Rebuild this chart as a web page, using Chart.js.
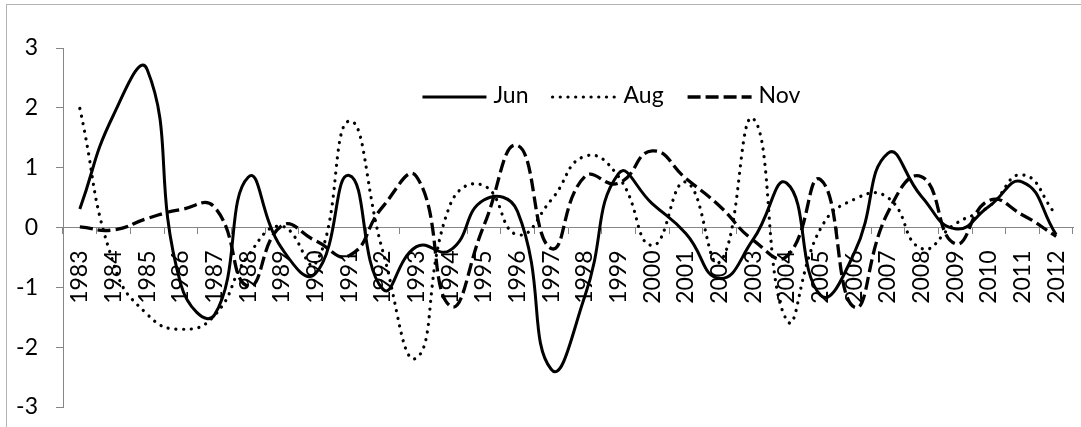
<!DOCTYPE html>
<html>
<head>
<meta charset="utf-8">
<script src="https://cdn.jsdelivr.net/npm/chart.js@4/dist/chart.umd.min.js"></script>
<style>
  html, body { margin: 0; padding: 0; background: #ffffff; }
  #wrap { position: relative; width: 1081px; height: 427px; overflow: hidden; }
  #frame { position: absolute; left: 6px; top: 4px; right: -5px; bottom: -5px; border: 1px solid #b3b3b3; pointer-events: none; }
  canvas { position: absolute; left: 0; top: 0; }
</style>
</head>
<body>
<div id="wrap">
  <canvas id="c" width="1081" height="427"></canvas>
  <div id="frame"></div>
</div>
<script>
const years = ["1983","1984","1985","1986","1987","1988","1989","1990","1991","1992","1993","1994","1995","1996","1997","1998","1999","2000","2001","2002","2003","2004","2005","2006","2007","2008","2009","2010","2011","2012"];
const jun = [0.31, 1.88, 2.64, -0.95, -1.46, 0.84, -0.35, -0.77, 0.87, -1.03, -0.32, -0.38, 0.46, 0.27, -2.37, -1.15, 0.9, 0.4, -0.1, -0.85, -0.2, 0.74, -1.13, -0.43, 1.24, 0.52, -0.02, 0.35, 0.76, -0.12];
const aug = [1.99, -0.6, -1.45, -1.7, -1.47, -0.47, 0.02, -0.6, 1.78, -0.4, -2.18, 0.38, 0.7, -0.12, 0.46, 1.19, 0.85, -0.3, 0.76, -0.58, 1.82, -1.55, -0.02, 0.47, 0.5, -0.35, 0.06, 0.35, 0.88, 0.21];
const nov = [0.01, -0.04, 0.15, 0.3, 0.34, -0.98, 0.03, -0.22, -0.47, 0.35, 0.85, -1.31, 0.03, 1.37, -0.35, 0.85, 0.74, 1.28, 0.82, 0.36, -0.21, -0.48, 0.8, -1.33, 0.25, 0.85, -0.27, 0.45, 0.21, -0.15];
const yTicks = [-3, -2, -1, 0, 1, 2, 3];

const FONT = "Lato, 'Open Sans', sans-serif";
const FS = 23;
const AXIS = '#868686';

function zeroPad(scale) {
  scale.paddingTop = 0; scale.paddingBottom = 0;
  scale.paddingLeft = 0; scale.paddingRight = 0;
}

const customLegend = {
  id: 'customLegend',
  afterDraw(chart) {
    const ctx = chart.ctx;
    ctx.save();
    ctx.font = FS + 'px ' + FONT;
    const sw = 64, gap = 7, sp = 24;
    const items = chart.data.datasets.map(ds => ({ ds, w: ctx.measureText(ds.label).width }));
    const total = items.reduce((a, it) => a + sw + gap + it.w, 0) + sp * (items.length - 1);
    const area = chart.chartArea;
    let x = area.left + (area.right - area.left) * 0.543 - total / 2;
    const y = area.top + 49;
    items.forEach(it => {
      const ds = it.ds;
      ctx.beginPath();
      ctx.setLineDash(ds.borderDash || []);
      ctx.lineCap = ds.borderCapStyle || 'butt';
      ctx.lineWidth = ds.borderWidth;
      ctx.strokeStyle = ds.borderColor;
      ctx.moveTo(x, y);
      ctx.lineTo(x + sw, y);
      ctx.stroke();
      ctx.setLineDash([]);
      ctx.fillStyle = '#000';
      ctx.textBaseline = 'middle';
      ctx.textAlign = 'left';
      ctx.fillText(ds.label, x + sw + gap, y - 1);
      x += sw + gap + it.w + sp;
    });
    ctx.restore();
  }
};

new Chart(document.getElementById('c'), {
  type: 'line',
  data: {
    labels: years,
    datasets: [
      { label: 'Jun', data: jun, borderColor: '#000', borderWidth: 3, borderDash: [], tension: 0.5, pointRadius: 0, fill: false },
      { label: 'Aug', data: aug, borderColor: '#000', borderWidth: 3.2, borderDash: [0.1, 7.6], borderCapStyle: 'round', tension: 0.5, pointRadius: 0, fill: false },
      { label: 'Nov', data: nov, borderColor: '#000', borderWidth: 3.3, borderDash: [13, 5], tension: 0.5, pointRadius: 0, fill: false }
    ]
  },
  options: {
    responsive: false,
    animation: false,
    devicePixelRatio: 1,
    layout: { padding: { left: 0, top: 48, right: 8, bottom: 20 } },
    plugins: {
      tooltip: { enabled: false },
      legend: { display: false }
    },
    scales: {
      x: {
        type: 'category',
        position: { y: 0 },
        offset: true,
        afterFit(scale) { scale.height = 0; zeroPad(scale); },
        grid: { drawOnChartArea: false, drawTicks: true, tickLength: 6, offset: true, color: AXIS },
        border: { display: true, color: AXIS, width: 1 },
        ticks: { autoSkip: false, minRotation: 90, maxRotation: 90, padding: 17, color: '#000', font: { family: FONT, size: FS } }
      },
      y: {
        position: 'left',
        min: -3, max: 3,
        afterBuildTicks(scale) { scale.ticks = yTicks.map(v => ({ value: v })); },
        afterFit(scale) { scale.width = 63; zeroPad(scale); },
        grid: { drawOnChartArea: false, drawTicks: true, tickLength: 7, color: AXIS },
        border: { display: true, color: AXIS, width: 1 },
        ticks: { padding: 18, color: '#000', font: { family: FONT, size: FS } }
      }
    }
  },
  plugins: [customLegend]
});
</script>
</body>
</html>
